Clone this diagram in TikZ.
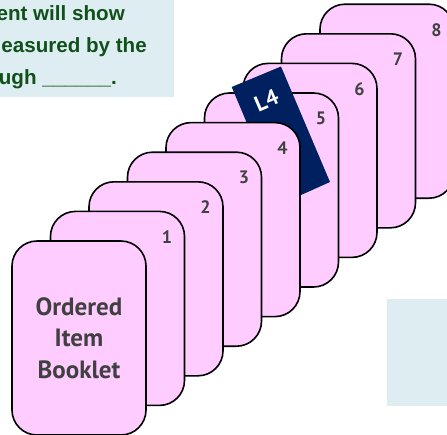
\documentclass[tikz,border=0pt]{standalone}
\usepackage{fontspec}
\setmainfont{PT Sans}
\newfontfamily\cardfont{PT Sans}
\newfontfamily\boxfont{Liberation Sans}
\definecolor{cardpink}{HTML}{FFCCFF}
\definecolor{boxblue}{HTML}{DDEDF1}
\definecolor{tabnavy}{HTML}{002060}
\definecolor{labgray}{HTML}{404040}
\definecolor{txtgreen}{HTML}{11501A}
\tikzset{
  card/.style={draw=black, line width=1.6pt, fill=cardpink, rounded corners=25pt,
    minimum width=134pt, minimum height=194pt, inner sep=0pt},
  numlab/.style={text=labgray, font=\cardfont\bfseries\fontsize{18}{18}\selectfont, inner sep=0pt},
  infobox/.style={fill=boxblue, draw=none},
  boxtext/.style={text=txtgreen, font=\boxfont\bfseries\fontsize{20.6}{21}\selectfont, inner sep=0pt}
}
\begin{document}
\begin{tikzpicture}[x=1pt,y=-1pt]
\useasboundingbox (0,0) rectangle (447,434);
% info boxes
\fill[infobox] (0,0) rectangle (174,97);
\fill[infobox] (387,299) rectangle (447,406);
\node[boxtext, anchor=base east] (t1) at (125,20) {ent will show};
\node[boxtext, anchor=base east] (t2) at (147,52) {easured by the};
\node[boxtext, anchor=base east] (t3) at (117,84) {ugh \_\_\_\_\_\_.};
% back cards 8..5
\foreach \k in {8,7,6,5}{
  \node[card] (c\k) at ({79+38.5*\k},{338-29.6*\k}) {};
  \node[numlab] (n\k) at ({167+38.5*(\k-1)},{237-29.6*(\k-1)}) {\k};
}
% L4 tab
\fill[tabnavy] (231.7,87) coordinate (ta) -- (281,66.5) coordinate (tb)
  -- (330,182) coordinate (tc) -- (281,204) coordinate (td) -- cycle;
\node[text=white, font=\cardfont\bfseries\fontsize{22}{22}\selectfont, rotate=23.6, inner sep=0pt] (l4) at (266.5,100.5) {L4};
% front cards 4..1
\foreach \k in {4,3,2,1}{
  \node[card] (c\k) at ({79+38.5*\k},{338-29.6*\k}) {};
  \node[numlab] (n\k) at ({167+38.5*(\k-1)},{237-29.6*(\k-1)}) {\k};
}
\node[card, text=labgray, font=\cardfont\bfseries\fontsize{25}{31.5}\selectfont, align=center] (c0) at (79,338) {Ordered\\Item\\Booklet};
\end{tikzpicture}
\end{document}
